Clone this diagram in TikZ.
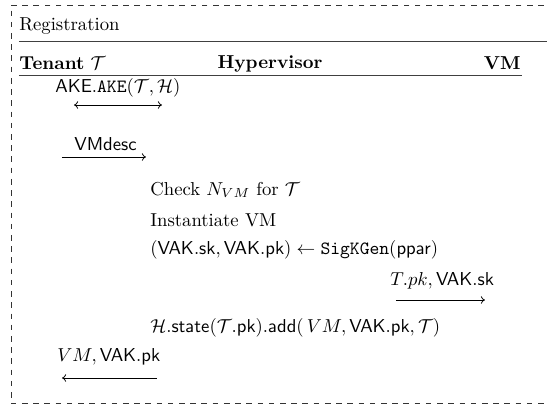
\documentclass[tikz,border=0pt]{standalone}
\usepackage{amsmath}
\usetikzlibrary{arrows.meta}
\begin{document}
\begin{tikzpicture}[x=0.5348pt,y=-0.5348pt,
  txt/.style={inner sep=0pt,anchor=west},
  rulel/.style={line width=0.5pt,black!75},
  msg/.style={-{To[length=2.2pt,width=4pt]},line width=0.4pt},
  dmsg/.style={{To[length=2.2pt,width=4pt]}-{To[length=2.2pt,width=4pt]},line width=0.4pt}]
\useasboundingbox (0,0) rectangle (547,405);
\begin{scope}
\clip (0,0) rectangle (547,405);
\coordinate (tr) at (600,5); \coordinate (tl) at (11,5);
\coordinate (bl) at (11,403.5); \coordinate (br) at (600,403.5);
\draw[dashed,line width=0.4pt,black!80] (tr) -- (tl) -- (bl) -- (br);
\draw[rulel] (19,41) -- (600,41);
\end{scope}
\node[txt] (reg) at (19,26) {Registration};
\node[txt] (ten) at (19,63.5) {\textbf{Tenant} $\mathcal{T}$};
\node[inner sep=0pt] (hyp) at (270,63.5) {\textbf{Hypervisor}};
\node[inner sep=0pt,anchor=east] (vm) at (521,63.5) {\textbf{VM}};
\draw[rulel] (19,75) -- (522,75);
\node[txt] (ake) at (55,87.5) {$\textsf{AKE}.\texttt{AKE}(\mathcal{T},\mathcal{H})$};
\coordinate (a1) at (74,105); \coordinate (a2) at (162,105);
\draw[dmsg] (a1) -- (a2);
\node[txt] (desc) at (74,144) {\textsf{VMdesc}};
\coordinate (b1) at (62,157); \coordinate (b2) at (146,157);
\draw[msg] (b1) -- (b2);
\node[txt] (chk) at (150,190) {Check $N_{VM}$ for $\mathcal{T}$};
\node[txt] (inst) at (150,220) {Instantiate VM};
\node[txt] (gen) at (150,250) {$(\mathsf{VAK.sk},\mathsf{VAK.pk})\leftarrow\mathtt{SigKGen}(\mathsf{ppar})$};
\node[txt] (tpk) at (390,281) {$T.pk,\mathsf{VAK.sk}$};
\coordinate (c1) at (396,300); \coordinate (c2) at (485,300);
\draw[msg] (c1) -- (c2);
\node[txt] (st) at (150,328) {$\mathcal{H}.\mathsf{state}(\mathcal{T}.\mathsf{pk}).\mathsf{add}(\,VM,\mathsf{VAK.pk},\mathcal{T})$};
\node[txt] (ret) at (57,357) {$VM,\mathsf{VAK.pk}$};
\coordinate (d1) at (157,378); \coordinate (d2) at (62,378);
\draw[msg] (d1) -- (d2);
\end{tikzpicture}
\end{document}
